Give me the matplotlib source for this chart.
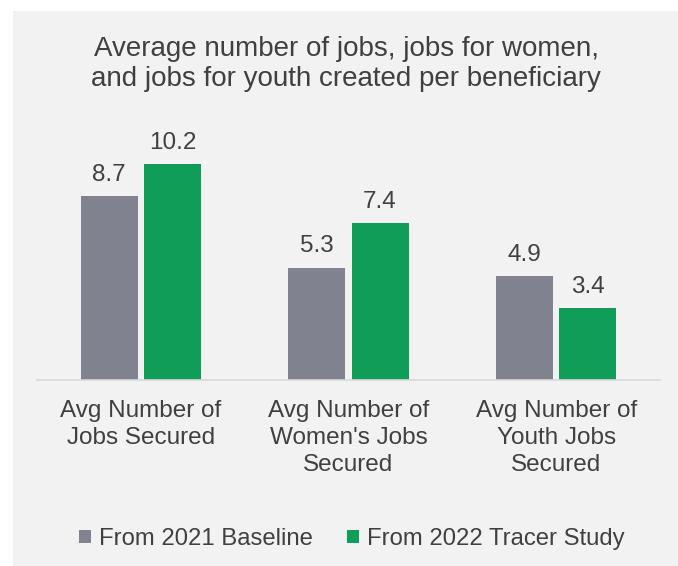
import matplotlib
matplotlib.use("Agg")
import matplotlib.pyplot as plt
from matplotlib.patches import Rectangle
import numpy as np

categories = ["Avg Number of\nJobs Secured",
              "Avg Number of\nWomen's Jobs\nSecured",
              "Avg Number of\nYouth Jobs\nSecured"]
baseline_2021 = [8.7, 5.3, 4.9]
tracer_2022 = [10.2, 7.4, 3.4]
series_names = ["From 2021 Baseline", "From 2022 Tracer Study"]
title = "Average number of jobs, jobs for women,\nand jobs for youth created per beneficiary"

GRAY = "#80828F"
GREEN = "#0F9D58"
TEXT = "#404040"
BG = "#F2F2F2"

plt.rcParams["font.family"] = ["Liberation Sans", "DejaVu Sans"]

W, H = 678, 566
fig = plt.figure(figsize=(W / 100, H / 100), dpi=100)
fig.patch.set_facecolor("white")

# light panel behind the chart
fig.patches.append(Rectangle((13 / W, 0), 1 - 13 / W, 1 - 11 / H,
                             transform=fig.transFigure, facecolor=BG,
                             edgecolor="none", zorder=-10))

ax_left, ax_right = 37 / W, 660 / W
ax_bottom = (H - 380) / H
ax_top = (H - 100) / H
ax = fig.add_axes([ax_left, ax_bottom, ax_right - ax_left, ax_top - ax_bottom])
ax.set_facecolor("none")
ax.set_zorder(1)

x = np.arange(len(categories))
bw = 0.275
off = 0.152
b1 = ax.bar(x - off, baseline_2021, bw, color=GRAY, label=series_names[0])
b2 = ax.bar(x + off, tracer_2022, bw, color=GREEN, label=series_names[1])

for bars, vals in ((b1, baseline_2021), (b2, tracer_2022)):
    for rect, v in zip(bars, vals):
        ax.annotate(f"{v:.1f}", (rect.get_x() + rect.get_width() / 2, v),
                    xytext=(0, 7.5), textcoords="offset points",
                    ha="center", va="bottom", fontsize=17.5, color=TEXT)

ax.set_xlim(-0.5, 2.5)
ax.set_ylim(0, (380 - 100) / 21.15)
ax.set_yticks([])
ax.set_xticks(x)
ax.set_xticklabels(categories, fontsize=17.5, color=TEXT, linespacing=1.29)
ax.tick_params(axis="x", length=0, pad=14.5)
for s in ("top", "right", "left"):
    ax.spines[s].set_visible(False)
ax.spines["bottom"].set_color("#D9D9D9")
ax.spines["bottom"].set_linewidth(1.2)

fig.text(346 / W, 1 - 64.5 / H, title, ha="center", va="center",
         fontsize=20, color=TEXT, linespacing=1.2)

fig.legend(handles=[b1, b2], labels=series_names, loc="center",
           bbox_to_anchor=(352 / W, 1 - 539 / H), ncol=2, frameon=False,
           fontsize=17.2, handlelength=0.5, handleheight=0.5,
           handletextpad=0.33, columnspacing=1.42, labelcolor=TEXT)

fig.savefig("out.png", dpi=100, facecolor=fig.get_facecolor())
